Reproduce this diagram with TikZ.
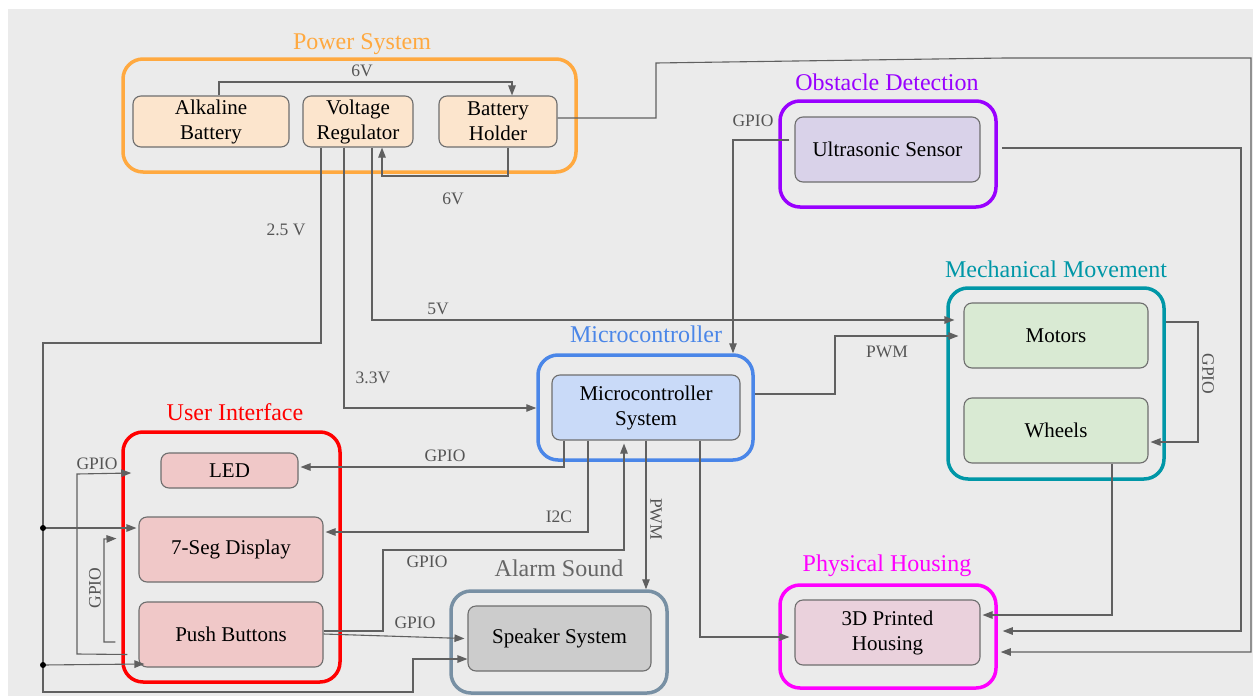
\documentclass[tikz,border=0pt]{standalone}
\usepackage{fontspec}
\setmainfont{Liberation Serif}
\usetikzlibrary{arrows.meta}
\definecolor{bg}{HTML}{EBEBEB}
\definecolor{boxc}{HTML}{6E6E6E}
\definecolor{linec}{HTML}{606060}
\definecolor{labc}{HTML}{555555}
\definecolor{orangec}{HTML}{FFA940}
\definecolor{purplec}{HTML}{9900FF}
\definecolor{tealc}{HTML}{0097A7}
\definecolor{bluec}{HTML}{4A86E8}
\definecolor{redc}{HTML}{FF0000}
\definecolor{slatec}{HTML}{7890A4}
\definecolor{magc}{HTML}{FF00FF}
\definecolor{graytc}{HTML}{666666}
\definecolor{peach}{HTML}{FCE5CD}
\definecolor{lav}{HTML}{D9D2E9}
\definecolor{mint}{HTML}{D9EAD3}
\definecolor{skyb}{HTML}{C9DAF8}
\definecolor{pinkf}{HTML}{F0C8C8}
\definecolor{grayf}{HTML}{CCCCCC}
\definecolor{mauve}{HTML}{EAD1DC}
\begin{document}
\begin{tikzpicture}[x=1pt,y=-1pt,
  blk/.style={draw=boxc,line width=1.1pt,rounded corners=8pt,align=center,inner sep=0pt,font=\fontsize{21}{25}\selectfont,text=black},
  cont/.style={line width=3.5pt,rounded corners=20pt,inner sep=0pt},
  ttl/.style={font=\fontsize{24}{28}\selectfont,inner sep=0pt},
  lbl/.style={font=\fontsize{17.5}{19}\selectfont,text=labc,inner sep=0pt},
  conn/.style={draw=linec,line width=1.1pt},
  arr/.style={conn,-{Triangle[length=10pt,width=7.5pt]}},
]
\useasboundingbox (0,0) rectangle (1253,696);
\fill[bg] (8,9) rectangle (1253,696);

% containers
\node[cont,draw=orangec,minimum width=453pt,minimum height=113pt] (pwrC) at (349.5,115.5) {};
\node[cont,draw=purplec,minimum width=216pt,minimum height=106pt] (obstC) at (888,154) {};
\node[cont,draw=tealc,minimum width=216pt,minimum height=191pt] (mechC) at (1056,383.5) {};
\node[cont,draw=bluec,minimum width=215pt,minimum height=105pt] (mcuC) at (645.5,407.5) {};
\node[cont,draw=redc,minimum width=217pt,minimum height=250pt] (uiC) at (231.5,557) {};
\node[cont,draw=slatec,minimum width=216pt,minimum height=102pt] (alarmC) at (559,642) {};
\node[cont,draw=magc,minimum width=216pt,minimum height=103pt] (housC) at (888,636.5) {};

% titles
\node[ttl,text=orangec] (tpwr) at (362,44) {Power System};
\node[ttl,text=purplec] (tobst) at (887,82) {Obstacle Detection};
\node[ttl,text=tealc] (tmech) at (1056,269) {Mechanical Movement};
\node[ttl,text=bluec] (tmcu) at (646,334) {Microcontroller};
\node[ttl,text=redc] (tui) at (235,412) {User Interface};
\node[ttl,text=graytc] (talarm) at (559,568) {Alarm Sound};
\node[ttl,text=magc] (thous) at (887,566) {Physical Housing};

% blocks
\node[blk,fill=peach,minimum width=156pt,minimum height=51pt] (alk) at (211,121.5) {Alkaline\\Battery};
\node[blk,fill=peach,minimum width=110pt,minimum height=51pt] (vr) at (358,121.5) {Voltage\\Regulator};
\node[blk,fill=peach,minimum width=118pt,minimum height=51pt] (bh) at (498,121.5) {Battery\\Holder};
\node[blk,fill=lav,minimum width=185pt,minimum height=65pt] (ultra) at (887.5,149.5) {Ultrasonic Sensor};
\node[blk,fill=mint,minimum width=184pt,minimum height=65pt] (motors) at (1056,335.5) {Motors};
\node[blk,fill=mint,minimum width=184pt,minimum height=65pt] (wheels) at (1056,430.5) {Wheels};
\node[blk,fill=skyb,minimum width=188pt,minimum height=65pt] (mcu) at (646,407.5) {Microcontroller\\System};
\node[blk,fill=pinkf,minimum width=137pt,minimum height=35pt] (led) at (229.5,470.5) {LED};
\node[blk,fill=pinkf,minimum width=184pt,minimum height=65pt] (seg) at (231,549.5) {7-Seg Display};
\node[blk,fill=pinkf,minimum width=184pt,minimum height=65pt] (push) at (231,634.5) {Push Buttons};
\node[blk,fill=grayf,minimum width=183pt,minimum height=65pt] (spk) at (559.5,638.5) {Speaker System};
\node[blk,fill=mauve,minimum width=185pt,minimum height=65pt] (house) at (887.5,632.5) {3D Printed\\Housing};

\coordinate (j1) at (43,528);
\coordinate (j2) at (43,665);

% connectors
\draw[arr] ([xshift=8pt]alk.north) |- (512,82) -- ([xshift=14pt]bh.north);
\draw[arr] ([xshift=10pt]bh.south) |- (382,176) -- ([xshift=24pt]vr.south);
\draw[arr] ([yshift=3.5pt]bh.east) -- (656,118) -- (656,63) -- (1005,58) -- (1251,58) -- (1251,652) -- ([xshift=3pt,yshift=-15.5pt]housC.east);
\draw[arr] ([xshift=4pt,yshift=6pt]obstC.east) -- (1241,148) -- (1241,631) -- ([xshift=5pt,yshift=5.5pt]housC.east);
\draw[arr] ([xshift=-5pt,yshift=9.5pt]ultra.west) -- (733,140) -- ([xshift=87.5pt]mcuC.north);
\draw[arr] ([xshift=14pt]vr.south) -- (372,320) -- ([xshift=-9pt,yshift=15.5pt]motors.west);
\draw[arr] ([yshift=13.5pt]mcuC.east) -- (835,394) -- (835,336) -- ([xshift=-5pt,yshift=-0.5pt]motors.west);
\draw[arr] ([yshift=61.5pt]mechC.east) -- (1198,322) -- (1198,442) -- ([xshift=2pt,yshift=-11.5pt]wheels.east);
\draw[arr] ([xshift=56pt]wheels.south) -- (1112,615) -- ([xshift=2pt,yshift=17.5pt]house.east);
\draw[arr] ([xshift=-14pt]vr.south) -- (344,408) -- ([yshift=-0.5pt]mcuC.west);
\draw[arr] ([xshift=-37pt]vr.south) -- (321,343) -- (43,343) -- (j1) -- (j2) -- (43,692) -- (413,692) -- (413,659) -- ([yshift=-20.5pt]spk.west);
\draw[arr] (j1) -- ([xshift=-2pt,yshift=21.5pt]seg.west);
\draw[arr] (j2) -- ([xshift=6pt,yshift=-29.5pt]push.west);
\fill (j1) circle (3pt);
\fill (j2) circle (3pt);
\draw[arr] ([xshift=-82pt]mcu.south) -- (564,467) -- ([xshift=2pt,yshift=3.5pt]led.east);
\draw[arr] ([xshift=-58pt]mcu.south) -- (588,532) -- ([xshift=2pt,yshift=17.5pt]seg.east);
\draw[arr] ([yshift=3.5pt]push.east) -- (383,631) -- (383,550) -- (624,550) -- ([xshift=-22pt,yshift=-3pt]mcu.south);
\draw[arr] ([yshift=0.5pt]push.east) -- ([xshift=-3pt]spk.west);
\draw[arr] (mcu.south) -- ([xshift=87pt]alarmC.north);
\draw[arr] ([xshift=54pt]mcu.south) -- (700,637) -- ([xshift=-5pt,yshift=-4.5pt]house.west);
\draw[arr] ([xshift=-11pt,yshift=-20pt]push.west) -- (77,654) -- (77,474) -- ([xshift=10pt,yshift=84pt]uiC.west);
\draw[arr] ([xshift=-23pt,yshift=-7.5pt]push.west) -- (104,642) -- (104,539) -- ([xshift=-22pt,yshift=11pt]seg.west);

% labels
\node[lbl] (l6a) at (362,71) {6V};
\node[lbl] (l6b) at (453,199) {6V};
\node[lbl] (l25) at (286,230) {2.5 V};
\node[lbl] (l5) at (438,309) {5V};
\node[lbl] (l33) at (373,378) {3.3V};
\node[lbl] (lgu) at (753,121) {GPIO};
\node[lbl] (lpwm) at (887,352) {PWM};
\node[lbl,rotate=-90] (lgm) at (1208,374) {GPIO};
\node[lbl] (lgled) at (445,456) {GPIO};
\node[lbl] (li2c) at (559,517) {I2C};
\node[lbl] (lgp) at (427,562) {GPIO};
\node[lbl] (lgs) at (415,623) {GPIO};
\node[lbl,rotate=-90] (lpwm2) at (656,519) {PWM};
\node[lbl] (lgui) at (97,464) {GPIO};
\node[lbl,rotate=90] (lgui2) at (95,588) {GPIO};
\end{tikzpicture}
\end{document}
